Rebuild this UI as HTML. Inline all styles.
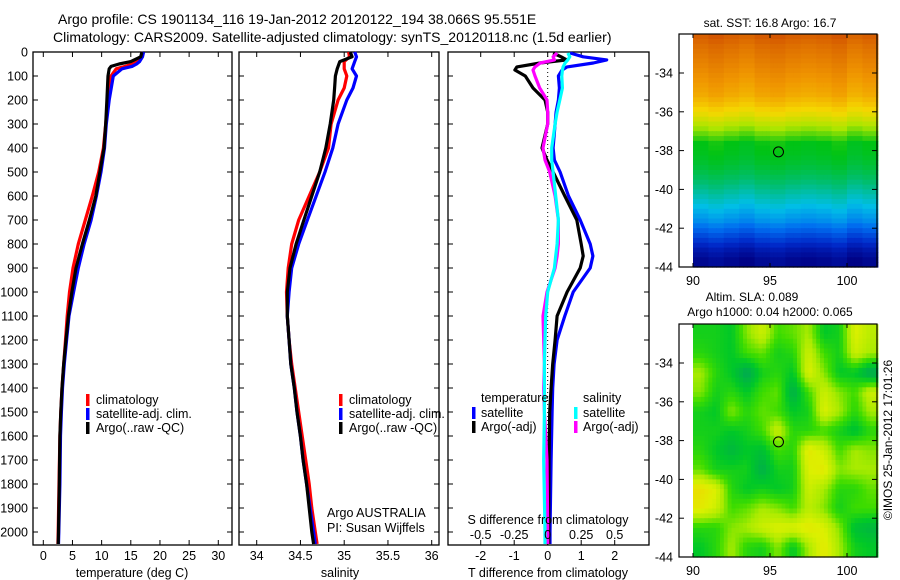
<!DOCTYPE html>
<html><head><meta charset="utf-8"><style>
html,body{margin:0;padding:0;background:#fff;}
svg{display:block;font-family:"Liberation Sans",sans-serif;}
text{fill:#000;}
</style></head><body>
<svg id="fig" width="900" height="580" viewBox="0 0 900 580" xmlns="http://www.w3.org/2000/svg">
<text x="58" y="24" font-size="14">Argo profile: CS 1901134_116 19-Jan-2012 20120122_194 38.066S 95.551E</text>
<text x="53" y="42" font-size="14">Climatology: CARS2009. Satellite-adjusted climatology: synTS_20120118.nc (1.5d earlier)</text>
<g id="p1"></g>
<g id="p2"></g>
<g id="p3"></g>
<g id="m1"></g>
<g id="m2"></g>
<text x="770" y="27" font-size="12" text-anchor="middle">sat. SST: 16.8 Argo: 16.7</text>
<text x="752" y="301" font-size="12" text-anchor="middle">Altim. SLA: 0.089</text>
<text x="770" y="316" font-size="12" text-anchor="middle">Argo h1000: 0.04 h2000: 0.065</text>
<text transform="translate(892,440) rotate(-90)" font-size="12" text-anchor="middle">©IMOS 25-Jan-2012 17:01:26</text>
</svg>
<script>
// ---- data ----
const depthT=[0,20,40,50,60,70,100,200,300,400,500,600,700,800,900,1000,1100,1200,1300,1400,1500,1600,1800,2000,2050];
const tArgo=[16.9,16.7,15.0,13.0,11.6,11.3,11.1,10.9,10.7,10.4,9.7,9.0,7.9,6.7,5.6,4.9,4.3,3.9,3.5,3.2,3.0,2.85,2.75,2.6,2.55];
const tClim=[17.0,16.8,16.0,15.3,14.0,12.5,11.6,11.1,10.7,10.3,9.5,8.4,7.2,6.0,5.1,4.5,4.1,3.8,3.5,3.2,3.0,2.85,2.7,2.55,2.5];
const tSat=[17.2,17.0,16.5,16.0,15.2,13.5,12.0,11.3,10.8,10.5,9.9,9.1,8.2,7.0,6.0,5.2,4.4,4.0,3.6,3.3,3.1,2.95,2.85,2.65,2.6];
const depthS=[0,20,40,70,100,150,200,300,400,500,600,700,800,900,1000,1100,1200,1300,1400,1500,1600,1700,1800,1900,2000,2050];
const sArgo=[35.07,35.09,34.95,34.92,34.90,34.89,34.88,34.84,34.79,34.72,34.63,34.54,34.45,34.38,34.35,34.35,34.37,34.39,34.43,34.46,34.50,34.53,34.57,34.60,34.63,34.65];
const sClim=[35.05,35.06,35.0,35.0,35.03,35.0,34.93,34.85,34.82,34.72,34.60,34.48,34.40,34.36,34.34,34.35,34.37,34.40,34.44,34.48,34.52,34.56,34.60,34.63,34.67,34.69];
const sSat=[35.12,35.14,35.12,35.09,35.14,35.10,35.03,34.93,34.87,34.78,34.68,34.58,34.48,34.40,34.37,34.35,34.37,34.39,34.43,34.46,34.50,34.53,34.57,34.61,34.65,34.67];
const depthD=[4,20,33,46,62,75,100,150,200,250,300,400,450,500,600,700,800,850,900,1000,1100,1200,1300,1400,1500,1700,2000,2050];
const dTArgo=[0.16,0.4,0.57,-0.23,-0.92,-0.98,-0.67,-0.44,-0.08,0,0,-0.17,-0.02,0.16,0.51,0.87,1.0,1.06,0.97,0.58,0.28,0.22,0.15,0.1,0.06,0.04,0.03,0.03];
const dTSat=[0.67,1.06,1.76,1.36,0.58,0.43,0.32,0.35,0.32,0.25,0.22,0.16,0.2,0.37,0.62,0.97,1.27,1.35,1.27,0.76,0.51,0.28,0.19,0.15,0.13,0.1,0.07,0.07];
const dSArgo=[0.07,0.04,0.05,-0.055,-0.095,-0.11,-0.095,-0.06,-0.005,0,0,-0.035,-0.02,0.015,0.055,0.08,0.08,0.07,0.055,-0.005,-0.035,-0.03,-0.025,-0.03,-0.025,-0.005,0,0];
const dSSat=[0.15,0.165,0.15,0.13,0.115,0.11,0.105,0.11,0.09,0.07,0.055,0.03,0.03,0.04,0.06,0.08,0.07,0.06,0.05,0,-0.015,-0.02,-0.025,-0.025,-0.025,-0.03,-0.02,-0.02];
const depthTicks=[0,100,200,300,400,500,600,700,800,900,1000,1100,1200,1300,1400,1500,1600,1700,1800,1900,2000];
const tTicks=[0,5,10,15,20,25,30];
const sTicks=[34,34.5,35,35.5,36];
const sTickLabels=["34","34.5","35","35.5","36"];
const dTTicks=[-2,-1,0,1,2];
const dSTicks=[-0.5,-0.25,0,0.25,0.5];
const dSTickLabels=["-0.5","-0.25","0","0.25","0.5"];
const latTicks=[-34,-36,-38,-40,-42,-44];
const lonTicks=[90,95,100];
// SST (deg C) per 0.5 deg latitude row, -32 to -43.5
const sstRows=[19.2,18.96,18.8,18.64,18.48,18.32,18.16,17.84,17.44,16.96,16.48,16.0,15.92,15.76,15.52,15.2,14.88,14.56,14.24,13.92,13.44,12.96,12.48,12.16];
const sstColOffset=[0,0.1,0,-0.1,0.05,0.1,0,-0.05,0,0.1,-0.1,0];
// SLA normalised field, 1-deg grid, rows lat -32.5..-43.5, cols lon 90.5..101.5
const slaGrid=[
[0.35,0.35,0.3,0.55,0.7,0.45,0.5,0.6,0.3,0.35,0.75,0.65],
[0.4,0.35,0.3,0.45,0.5,0.35,0.4,0.7,0.45,0.35,0.7,0.6],
[0.6,0.4,0.3,0.1,0.35,0.4,0.3,0.75,0.55,0.3,0.3,0.1],
[0.55,0.35,0.4,0.3,0.45,0.5,0.15,0.45,0.7,0.55,0.45,0.7],
[0.35,0.3,0.55,0.4,0.5,0.45,0.3,0.35,0.75,0.6,0.4,0.6],
[0.35,0.35,0.3,0.35,0.45,0.7,0.4,0.4,0.45,0.35,0.25,0.4],
[0.4,0.3,0.2,0.3,0.25,0.45,0.4,0.8,0.7,0.45,0.6,0.55],
[0.5,0.35,0.35,0.35,0.15,0.35,0.35,0.75,0.8,0.55,0.6,0.6],
[0.85,0.75,0.4,0.3,0.35,0.3,0.35,0.7,0.6,0.4,0.4,0.5],
[0.8,0.7,0.45,0.5,0.6,0.55,0.45,0.65,0.55,0.35,0.45,0.45],
[0.4,0.4,0.55,0.6,0.7,0.75,0.75,0.8,0.75,0.55,0.25,0.2],
[0.3,0.4,0.6,0.4,0.35,0.55,0.3,0.6,0.8,0.6,0.35,0.3]];
const argoLon=95.551, argoLat=-38.066;

// ---- helpers ----
const NS="http://www.w3.org/2000/svg";
function mk(tag,attrs,parent){const e=document.createElementNS(NS,tag);for(const k in attrs)e.setAttribute(k,attrs[k]);parent.appendChild(e);return e;}
const Y0=52, PXM=0.24, YB=545;
const yD=d=>Y0+d*PXM;
const xT=v=>43.3+5.833*v;
const xS=v=>256.7+87.5*(v-34);
const xDT=v=>547.7+33.5*v;
const xDS=v=>547.7+134*v;

function frame(g,x0,x1,name){
  const r=mk('rect',{x:x0,y:Y0,width:x1-x0,height:YB-Y0,fill:'none',stroke:'#000','stroke-width':1.3},g);
  
  
  depthTicks.forEach(d=>{
    const t1=mk('line',{x1:x0,x2:x0+5,y1:yD(d),y2:yD(d),stroke:'#000'},g);
    
    
    const t2=mk('line',{x1:x1,x2:x1-5,y1:yD(d),y2:yD(d),stroke:'#000'},g);
    
    
  });
}
function xticks(g,ticks,labels,fx,ly){
  ticks.forEach((v,i)=>{
    const x=fx(v);
    const a=mk('line',{x1:x,x2:x,y1:Y0,y2:Y0+5,stroke:'#000'},g);
    
    
    const b=mk('line',{x1:x,x2:x,y1:YB,y2:YB-5,stroke:'#000'},g);
    
    
    if(ly){const t=mk('text',{x:x,y:ly,'font-size':12.5,'text-anchor':'middle'},g);t.textContent=labels[i];
    
    }
  });
}
function line(g,ys,xs,fx,color,name){
  const pts=xs.map((v,i)=>fx(v).toFixed(1)+','+yD(ys[i]).toFixed(1)).join(' ');
  const p=mk('polyline',{points:pts,fill:'none',stroke:color,'stroke-width':3.2,'stroke-linejoin':'round'},g);
  
  
}
function txt(g,x,y,s,name,size,anchor){const t=mk('text',{x:x,y:y,'font-size':size||12.5,'text-anchor':anchor||'start'},g);t.textContent=s;
  
  return t;}
function legMark(g,x,y,color){const r=mk('rect',{x:x,y:y-10,width:3.5,height:12,fill:color},g);
  
  }

// ---- panel 1 ----
const p1=document.getElementById('p1');
depthTicks.forEach(d=>{txt(p1,28,yD(d)+4.5,String(d),'depth-tick-label',12.5,'end');});
frame(p1,33,232,'temperature');
xticks(p1,tTicks,tTicks.map(String),xT,560);
txt(p1,132,577,'temperature (deg C)','temperature-axis-title',12.5,'middle');
line(p1,depthT,tClim,xT,'#f00','temp-climatology-line');
line(p1,depthT,tSat,xT,'#00f','temp-satellite-line');
line(p1,depthT,tArgo,xT,'#000','temp-argo-line');
legMark(p1,86,404,'#f00');txt(p1,96,404,'climatology','legend-climatology');
legMark(p1,86,418,'#00f');txt(p1,96,418,'satellite-adj. clim.','legend-satellite');
legMark(p1,86,432,'#000');txt(p1,96,432,'Argo(..raw -QC)','legend-argo');

// ---- panel 2 ----
const p2=document.getElementById('p2');
frame(p2,239,439,'salinity');
xticks(p2,sTicks,sTickLabels,xS,560);
txt(p2,340,577,'salinity','salinity-axis-title',12.5,'middle');
line(p2,depthS,sClim,xS,'#f00','sal-climatology-line');
line(p2,depthS,sSat,xS,'#00f','sal-satellite-line');
line(p2,depthS,sArgo,xS,'#000','sal-argo-line');
legMark(p2,339,404,'#f00');txt(p2,349,404,'climatology','legend-climatology');
legMark(p2,339,418,'#00f');txt(p2,349,418,'satellite-adj. clim.','legend-satellite');
legMark(p2,339,432,'#000');txt(p2,349,432,'Argo(..raw -QC)','legend-argo');
txt(p2,327,517,'Argo AUSTRALIA','argo-agency');
txt(p2,327,532,'PI: Susan Wijffels','argo-pi');

// ---- panel 3 ----
const p3=document.getElementById('p3');
frame(p3,448,649,'difference');
xticks(p3,dTTicks,dTTicks.map(String),xDT,560);
const zl=mk('line',{x1:xDT(0),x2:xDT(0),y1:Y0,y2:YB,stroke:'#000','stroke-dasharray':'1,3'},p3);


line(p3,depthD,dTSat,xDT,'#00f','dT-satellite-line');
line(p3,depthD,dTArgo,xDT,'#000','dT-argo-line');
line(p3,depthD,dSArgo,xDS,'#f0f','dS-argo-line');
line(p3,depthD,dSSat,xDS,'#0ff','dS-satellite-line');
dSTicks.forEach((v,i)=>txt(p3,xDS(v),539,dSTickLabels[i],'s-tick-label',12.5,'middle'));
txt(p3,548,524,'S difference from climatology','s-diff-axis-title',12.5,'middle');
txt(p3,548,577,'T difference from climatology','t-diff-axis-title',12.5,'middle');
txt(p3,481,402,'temperature','legend-temperature-heading');
legMark(p3,472,417,'#00f');txt(p3,481,417,'satellite','legend-t-satellite');
legMark(p3,472,431,'#000');txt(p3,481,431,'Argo(-adj)','legend-t-argo');
txt(p3,583,402,'salinity','legend-salinity-heading');
legMark(p3,574,417,'#0ff');txt(p3,583,417,'satellite','legend-s-satellite');
legMark(p3,574,431,'#f0f');txt(p3,583,431,'Argo(-adj)','legend-s-argo');

// ---- maps ----
const sstStops=[[0,[0,0,130]],[0.1,[0,40,200]],[0.2,[0,110,240]],[0.3,[0,190,230]],[0.4,[0,190,110]],[0.5,[0,195,20]],[0.6,[170,230,0]],[0.7,[245,215,0]],[0.8,[240,150,0]],[0.9,[215,95,0]],[1,[180,25,0]]];
const slaStops=[[0,[0,150,110]],[0.3,[0,200,40]],[0.45,[60,220,0]],[0.6,[170,235,0]],[0.75,[220,240,0]],[0.9,[240,215,0]],[1,[245,200,0]]];
function ramp(stops,v){v=Math.max(0,Math.min(1,v));
  for(let i=1;i<stops.length;i++){if(v<=stops[i][0]){const a=stops[i-1],b=stops[i],t=(v-a[0])/(b[0]-a[0]);
    return `rgb(${a[1].map((c,k)=>Math.round(c+(b[1][k]-c)*t)).join(',')})`;}}
  const l=stops[stops.length-1][1];return `rgb(${l.join(',')})`;}
function drawMap(id,top,cellFn,name){
  const g=document.getElementById(id);
  const lat=v=>top+39+(-34-v)*19.4, lon=v=>693+(v-90)*15.4;
  const cg=mk('g',{},g);
  
  
  for(let r=0;r<48;r++){for(let c=0;c<48;c++){
    const la=-32-r*0.25, lo=90+c*0.25;
    const y1=lat(la), y2=lat(la-0.25), x1=lon(lo), x2=lon(lo+0.25);
    mk('rect',{x:x1.toFixed(1),y:y1.toFixed(1),width:(x2-x1+0.6).toFixed(1),height:(y2-y1+0.6).toFixed(1),fill:cellFn(r,c)},cg);
  }}
  const fr=mk('rect',{x:679,y:top,width:198,height:233,fill:'none',stroke:'#000','stroke-width':1.2},g);
  
  
  latTicks.forEach(v=>{const y=lat(v);
    const a=mk('line',{x1:679,x2:684,y1:y,y2:y,stroke:'#000'},g);
    
    
    const b=mk('line',{x1:877,x2:872,y1:y,y2:y,stroke:'#000'},g);
    
    
    txt(g,673,y+4.5,String(v),'lat-tick-label',12.5,'end');});
  lonTicks.forEach(v=>{const x=lon(v);
    const a=mk('line',{x1:x,x2:x,y1:top,y2:top+4,stroke:'#000'},g);
    
    
    const b=mk('line',{x1:x,x2:x,y1:top+233,y2:top+229,stroke:'#000'},g);
    
    
    txt(g,x,top+251,String(v),'lon-tick-label',12.5,'middle');});
  const ci=mk('circle',{cx:lon(argoLon),cy:lat(argoLat),r:5,fill:'none',stroke:'#000','stroke-width':1},g);
  
  
}
drawMap('m1',34,(r,c)=>{
  const rf=r/2, r0=Math.floor(rf), r1=Math.min(23,r0+1), t=rf-r0;
  const temp=sstRows[r0]*(1-t)+sstRows[r1]*t+sstColOffset[Math.floor(c/4)];
  return ramp(sstStops,(temp-12)/8);
},'sst-map');
drawMap('m2',324,(r,c)=>{
  const fr=Math.max(0,Math.min(11,(r+0.5)/4-0.5)), fc=Math.max(0,Math.min(11,(c+0.5)/4-0.5));
  const r0=Math.floor(fr),c0=Math.floor(fc),r1=Math.min(11,r0+1),c1=Math.min(11,c0+1),tr=fr-r0,tc=fc-c0;
  const v=slaGrid[r0][c0]*(1-tr)*(1-tc)+slaGrid[r0][c1]*(1-tr)*tc+slaGrid[r1][c0]*tr*(1-tc)+slaGrid[r1][c1]*tr*tc;
  return ramp(slaStops,v);
},'sla-map');
</script>
</body></html>
